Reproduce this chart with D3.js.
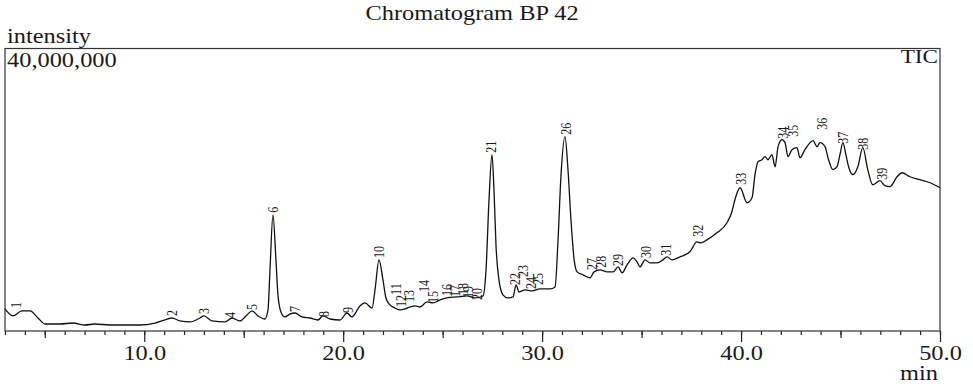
<!DOCTYPE html>
<html>
<head>
<meta charset="utf-8">
<script src="https://cdn.jsdelivr.net/npm/d3@7"></script>
<style>
  body { margin: 0; background: #fff; }
  text { font-family: "Liberation Serif", "Times New Roman", serif; fill: #1a1a1a; }
</style>
</head>
<body>
<div id="chart"></div>
<script>
// retention time (min) and intensity (millions of counts)
var times = [3.00, 3.40, 3.85, 4.26, 4.66, 5.01, 5.76, 6.42, 7.02, 7.52, 8.28, 9.79, 10.54, 11.04, 11.39,
  11.80, 12.30, 12.80, 13.00, 13.41, 14.06, 14.41, 14.81, 15.16, 15.42, 15.72, 16.07, 16.22, 16.32, 16.47,
  16.62, 16.72, 16.87, 17.07, 17.33, 17.58, 17.93, 18.33, 18.73, 18.98, 19.34, 19.84, 20.19, 20.44, 20.84,
  21.10, 21.45, 21.60, 21.80, 22.00, 22.15, 22.35, 22.60, 22.86, 23.11, 23.36, 23.61, 23.86, 24.21, 24.51,
  24.87, 25.22, 25.72, 26.22, 26.62, 27.03, 27.18, 27.33, 27.48, 27.58, 27.68, 27.83, 28.03, 28.28, 28.54,
  28.69, 28.84, 29.14, 29.49, 29.89, 30.40, 30.65, 30.80, 30.95, 31.15, 31.30, 31.45, 31.61, 31.76, 32.06,
  32.41, 32.61, 32.91, 33.27, 33.57, 33.82, 34.02, 34.27, 34.57, 34.77, 34.92, 35.17, 35.42, 35.77, 36.07,
  36.28, 36.53, 36.93, 37.43, 37.78, 37.98, 38.28, 38.79, 39.29, 39.54, 39.69, 39.95, 40.30, 40.55, 40.70,
  40.85, 41.05, 41.20, 41.35, 41.55, 41.71, 41.86, 42.06, 42.21, 42.36, 42.56, 42.81, 42.96, 43.21, 43.47,
  43.62, 43.82, 43.97, 44.22, 44.37, 44.62, 44.82, 44.97, 45.12, 45.27, 45.42, 45.62, 45.87, 46.12, 46.37,
  46.62, 46.98, 47.23, 47.48, 47.84, 48.09, 48.49, 48.99, 49.50, 50.00];
var intensity = [3.12, 2.13, 2.84, 2.84, 1.84, 0.99, 0.99, 1.13, 0.85, 0.99, 0.85, 0.85, 1.13, 1.56, 1.84,
  1.42, 1.28, 1.84, 2.13, 1.42, 1.28, 1.84, 1.42, 2.27, 2.84, 2.13, 1.70, 2.98, 8.65, 16.45,
  10.07, 5.11, 2.70, 1.99, 2.41, 2.55, 1.99, 1.84, 1.56, 2.13, 1.70, 1.56, 2.55, 1.99, 3.55,
  3.97, 3.26, 5.82, 10.07, 7.23, 4.68, 3.69, 3.26, 2.98, 3.12, 3.40, 3.55, 3.40, 4.11, 3.97,
  4.40, 4.68, 4.82, 4.96, 4.68, 4.96, 8.65, 18.58, 24.96, 20.00, 12.20, 7.23, 5.11, 4.68, 4.82,
  6.52, 5.53, 5.82, 5.67, 5.96, 5.96, 6.24, 12.91, 22.13, 27.52, 22.84, 15.74, 10.07, 8.37, 7.94,
  7.52, 8.37, 8.65, 8.37, 8.37, 9.08, 8.23, 9.36, 10.35, 9.79, 9.08, 10.07, 9.65, 9.65, 10.07,
  10.50, 10.07, 10.50, 11.21, 12.62, 12.48, 12.91, 13.90, 15.32, 16.88, 18.58, 20.28, 18.16, 18.86, 22.13,
  23.97, 24.25, 24.68, 24.25, 24.96, 23.26, 26.10, 27.09, 26.67, 24.68, 25.67, 25.96, 24.54, 25.67, 26.67,
  26.95, 26.10, 26.67, 26.10, 24.54, 22.84, 23.26, 24.96, 26.67, 24.96, 23.12, 22.13, 23.26, 25.96, 22.84,
  20.71, 21.28, 20.57, 20.43, 21.84, 22.41, 21.84, 21.42, 20.99, 20.28];

// peak numbers with where each label sits (time, intensity at the label's foot)
var peakNo = d3.range(1, 40);
var peakTime = [3.55, 11.39, 13.00, 14.31, 15.42, 16.47, 17.58, 19.04, 20.24, 21.80,
  22.65, 22.91, 23.31, 24.06, 24.51, 25.22, 25.62, 26.02, 26.27, 26.73,
  27.43, 28.64, 29.04, 29.44, 29.79, 31.20, 32.51, 32.96, 33.81, 35.22,
  36.23, 37.83, 40.00, 42.11, 42.61, 44.07, 45.12, 46.13, 47.08];
var peakLabelLevel = [3.26, 2.13, 2.41, 1.84, 2.98, 16.74, 2.70, 1.99, 2.55, 10.35,
  5.11, 3.40, 4.11, 5.53, 3.97, 4.96, 4.82, 5.11, 4.68, 4.40,
  25.25, 6.52, 7.66, 5.96, 6.52, 27.80, 8.65, 8.94, 9.22, 10.35,
  10.64, 13.33, 20.71, 27.23, 27.52, 28.51, 26.52, 25.67, 21.42];

var xDomain = [3, 50];
var yMax = 40;                       // millions
var majorTicks = [10, 20, 30, 40, 50];
var mediumTicks = [5, 15, 25, 35, 45];
var minorTicks = d3.range(3, 51);

var w = 973, h = 386;
var plotLeft = 5, plotRight = 940, plotTop = 48.5, plotBottom = 331;
var stretch = 1.22;                  // the original lettering is wide

var svg = d3.select("#chart")
            .append("svg")
            .attr("width", w)
            .attr("height", h);

var xScale = d3.scaleLinear().domain(xDomain).range([plotLeft, plotRight]);
var yScale = d3.scaleLinear().domain([0, yMax]).range([plotBottom, plotTop]);

svg.append("text")
   .attr("transform", "translate(472,20) scale(" + stretch + ",1)")
   .attr("text-anchor", "middle")
   .attr("font-size", 20)
   .text("Chromatogram BP 42");

svg.append("text")
   .attr("transform", "translate(7,43) scale(" + stretch + ",1)")
   .attr("font-size", 20)
   .text("intensity");

svg.append("text")
   .attr("transform", "translate(7,67) scale(" + stretch + ",1)")
   .attr("font-size", 20)
   .text(d3.format(",")(yMax * 1e6));

svg.append("text")
   .attr("transform", "translate(938,63) scale(" + stretch + ",1)")
   .attr("text-anchor", "end")
   .attr("font-size", 19)
   .text("TIC");

svg.append("text")
   .attr("transform", "translate(938,380) scale(" + stretch + ",1)")
   .attr("text-anchor", "end")
   .attr("font-size", 20)
   .text("min");

// ticks: three passes with different lengths
function tickAxis(values, size, labelled) {
  var axis = d3.axisBottom(xScale)
               .tickValues(values)
               .tickSize(size)
               .tickPadding(4)
               .tickFormat(labelled ? d3.format(".1f") : "");
  var g = svg.append("g")
             .attr("transform", "translate(0," + plotBottom + ")")
             .call(axis);
  g.select(".domain").remove();
  g.selectAll(".tick line").attr("stroke", "#222").attr("stroke-width", 1.2);
  g.selectAll(".tick text")
   .attr("transform", "scale(" + stretch + ",1)")
   .attr("font-size", 20)
   .attr("font-family", "Liberation Serif, serif")
   .attr("fill", "#1a1a1a");
}
tickAxis(minorTicks, 4, false);
tickAxis(mediumTicks, 7, false);
tickAxis(majorTicks, 11, true);

svg.append("rect")
   .attr("x", plotLeft)
   .attr("y", plotTop)
   .attr("width", plotRight - plotLeft)
   .attr("height", plotBottom - plotTop)
   .attr("fill", "none")
   .attr("stroke", "#333")
   .attr("stroke-width", 1.2);

var trace = times.map(function(t, i) { return [t, intensity[i]]; });

var line = d3.line()
             .x(function(d) { return xScale(d[0]); })
             .y(function(d) { return yScale(d[1]); })
             .curve(d3.curveMonotoneX);

svg.append("path")
   .datum(trace)
   .attr("d", line)
   .attr("fill", "none")
   .attr("stroke", "#111")
   .attr("stroke-width", 1.3);

svg.selectAll(".peak")
   .data(peakNo)
   .enter()
   .append("text")
   .attr("class", "peak")
   .attr("transform", function(d, i) {
     return "translate(" + xScale(peakTime[i]) + "," + yScale(peakLabelLevel[i]) + ") scale(" + stretch + ",1) rotate(-90)";
   })
   .attr("dy", "0.33em")
   .attr("font-size", 12)
   .attr("fill", "#1c1c3c")
   .text(function(d) { return d; });
</script>
</body>
</html>
